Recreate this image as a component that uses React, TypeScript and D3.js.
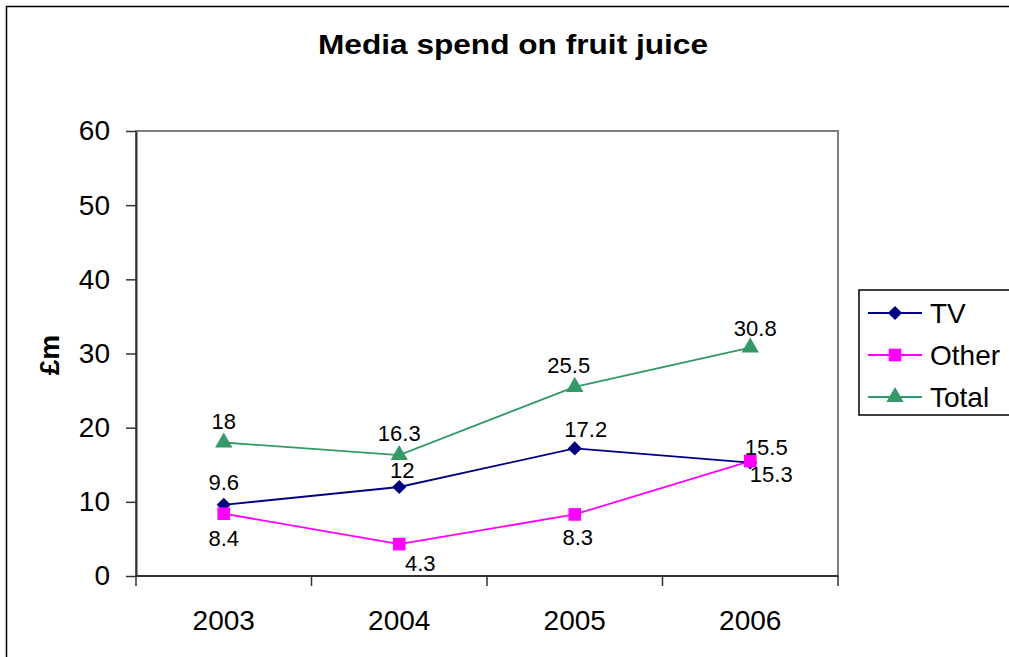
import React, { useEffect, useRef } from "react";
import * as d3 from "d3";

const categories = ["2003", "2004", "2005", "2006"];
const tvValues = [9.6, 12, 17.2, 15.3];
const otherValues = [8.4, 4.3, 8.3, 15.5];
const totalValues = [18, 16.3, 25.5, 30.8];
const yTicks = [0, 10, 20, 30, 40, 50, 60];

// label offsets (dx, dy of label centre relative to the point)
const tvLabelOffsets = [[0, -23], [3, -17], [11, -19], [21, 11]];
const otherLabelOffsets = [[0, 24], [21, 19], [3, 23], [16, -14]];
const totalLabelOffsets = [[0, -22], [0, -22], [-6, -22], [5, -20]];

export default function App() {
  const ref = useRef<SVGSVGElement | null>(null);
  useEffect(() => {
    const svg = d3.select(ref.current);
    svg.selectAll("*").remove();
    const left = 136, right = 838, top = 131, bottom = 576;
    const font = "Liberation Sans, Arial, sans-serif";

    svg.append("rect").attr("x", 6.5).attr("y", 6.5).attr("width", 1010).attr("height", 660)
      .attr("fill", "white").attr("stroke", "black").attr("stroke-width", 1.5);

    svg.append("text").attr("x", 513).attr("y", 54).attr("text-anchor", "middle")
      .attr("font-family", font).attr("font-weight", "bold").attr("font-size", 27)
      .attr("textLength", 390).attr("lengthAdjust", "spacingAndGlyphs")
      .text("Media spend on fruit juice");

    const x = d3.scaleBand().domain(categories).range([left, right]).padding(0);
    const y = d3.scaleLinear().domain([0, 60]).range([bottom, top]);
    const cx = (c: string) => (x(c) as number) + x.bandwidth() / 2;

    // plot border
    svg.append("rect").attr("x", left).attr("y", top).attr("width", right - left).attr("height", bottom - top)
      .attr("fill", "white").attr("stroke", "#808080").attr("stroke-width", 2);

    // y axis
    const yAxis = svg.append("g").attr("transform", `translate(${left},0)`)
      .call(d3.axisLeft(y).tickValues(yTicks).tickSize(10).tickSizeOuter(0).tickPadding(16));
    yAxis.select(".domain").attr("stroke", "#333").attr("stroke-width", 2);
    yAxis.selectAll(".tick line").attr("stroke", "#333").attr("stroke-width", 1.5);
    yAxis.selectAll("text").attr("font-family", font).attr("font-size", 28).attr("fill", "black");

    // x axis
    const xb = d3.scaleLinear().domain([0, 4]).range([left, right]);
    const xAxis = svg.append("g").attr("transform", `translate(0,${bottom})`);
    xAxis.append("line").attr("x1", left).attr("x2", right).attr("y1", 0).attr("y2", 0)
      .attr("stroke", "#333").attr("stroke-width", 2);
    [0, 1, 2, 3, 4].forEach((i) => {
      xAxis.append("line").attr("x1", xb(i)).attr("x2", xb(i)).attr("y1", 0).attr("y2", 10)
        .attr("stroke", "#333").attr("stroke-width", 1.5);
    });
    categories.forEach((c) => {
      xAxis.append("text").attr("x", cx(c)).attr("y", 54).attr("text-anchor", "middle")
        .attr("font-family", font).attr("font-size", 28).text(c);
    });

    // y label
    svg.append("text").attr("transform", `translate(59,355) rotate(-90)`).attr("text-anchor", "middle")
      .attr("font-family", font).attr("font-weight", "bold").attr("font-size", 28).text("£m");

    const line = d3.line<number>().x((_, i) => cx(categories[i])).y((d) => y(d));

    const series = [
      { name: "TV", values: tvValues, color: "#000080", sym: d3.symbolSquare, size: 100, rot: 45, offs: tvLabelOffsets },
      { name: "Other", values: otherValues, color: "#FF00FF", sym: d3.symbolSquare, size: 160, rot: 0, offs: otherLabelOffsets },
      { name: "Total", values: totalValues, color: "#339966", sym: d3.symbolTriangle, size: 130, rot: 0, offs: totalLabelOffsets },
    ];

    [series[2], series[1], series[0]].forEach((s) => {
      svg.append("path").attr("d", line(s.values) as string).attr("fill", "none")
        .attr("stroke", s.color).attr("stroke-width", 1.8);
    });
    series.forEach((s) => {
      s.values.forEach((v, i) => {
        svg.append("path").attr("d", d3.symbol().type(s.sym).size(s.size)() as string)
          .attr("transform", `translate(${cx(categories[i])},${y(v)}) rotate(${s.rot})`).attr("fill", s.color);
      });
    });
    series.forEach((s) => {
      s.values.forEach((v, i) => {
        svg.append("text").attr("x", cx(categories[i]) + s.offs[i][0]).attr("y", y(v) + s.offs[i][1] + 8)
          .attr("text-anchor", "middle").attr("font-family", font).attr("font-size", 22).text(String(v));
      });
    });

    // legend
    const lg = svg.append("g");
    lg.append("rect").attr("x", 859).attr("y", 290).attr("width", 170).attr("height", 125)
      .attr("fill", "white").attr("stroke", "black").attr("stroke-width", 1.5);
    series.forEach((s, i) => {
      const ly = 313 + i * 42;
      lg.append("line").attr("x1", 868).attr("x2", 922).attr("y1", ly).attr("y2", ly)
        .attr("stroke", s.color).attr("stroke-width", 1.8);
      lg.append("path").attr("d", d3.symbol().type(s.sym).size(s.size)() as string)
        .attr("transform", `translate(895,${ly}) rotate(${s.rot})`).attr("fill", s.color);
      lg.append("text").attr("x", 930).attr("y", ly + 10).attr("font-family", font).attr("font-size", 28).text(s.name);
    });
  }, []);
  return (
    <svg ref={ref} width={1009} height={657}
      style={{ position: "fixed", left: 0, top: 0, background: "white" }} />
  );
}
